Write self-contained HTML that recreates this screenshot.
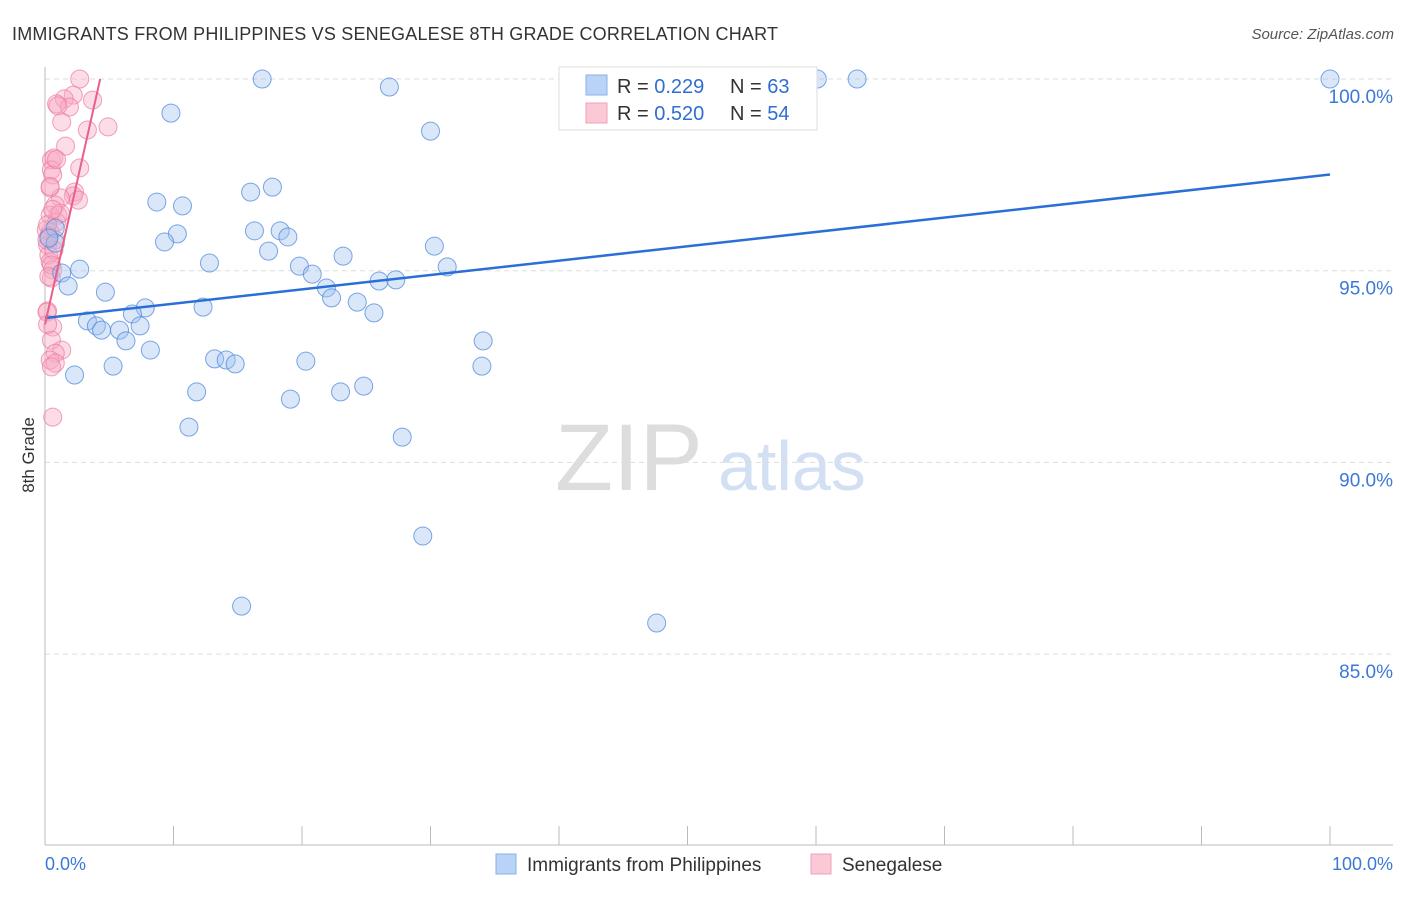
<!DOCTYPE html>
<html><head><meta charset="utf-8"><style>
body{margin:0;background:#fff;font-family:"Liberation Sans",sans-serif}
svg text{font-family:"Liberation Sans",sans-serif}
</style></head><body>
<svg id="c" width="1406" height="892">
<text x="12" y="40" font-size="18" fill="#333" textLength="766">IMMIGRANTS FROM PHILIPPINES VS SENEGALESE 8TH GRADE CORRELATION CHART</text>
<text x="1394" y="39" font-size="15" fill="#555" text-anchor="end" font-style="italic">Source: ZipAtlas.com</text>
<text transform="translate(34,455) rotate(-90)" font-size="17" fill="#333" text-anchor="middle">8th Grade</text>
<text x="555" y="490" font-size="95" fill="#ddd" font-family="Liberation Serif">ZIP</text>
<text x="718" y="490" font-size="70" fill="#d3e0f3">atlas</text>
<g id="grid"></g><g id="pts"></g><g id="lines"></g>
<g>
<rect x="559" y="67" width="258" height="63" fill="#fff" stroke="#ddd"/>
<rect x="586" y="75" width="21" height="20" fill="#b8d3f5" stroke="#8ab2e8"/>
<rect x="586" y="103" width="21" height="20" fill="#fbc8d6" stroke="#f0a0b8"/>
<text x="617" y="93" font-size="20" fill="#333">R = <tspan fill="#2f6fd0">0.229</tspan><tspan x="730">N = </tspan><tspan fill="#2f6fd0">63</tspan></text>
<text x="617" y="120" font-size="20" fill="#333">R = <tspan fill="#2f6fd0">0.520</tspan><tspan x="730">N = </tspan><tspan fill="#2f6fd0">54</tspan></text>
</g>
<g>
<rect x="496" y="854" width="20" height="20" fill="#b8d3f5" stroke="#8ab2e8"/>
<text x="527" y="871" font-size="19" fill="#333">Immigrants from Philippines</text>
<rect x="811" y="854" width="20" height="20" fill="#fbc8d6" stroke="#f0a0b8"/>
<text x="842" y="871" font-size="19" fill="#333">Senegalese</text>
</g>
</svg>
<script>
const blueX=[16.9,26.8,60.1,63.2,100,9.8,30.0,8.7,10.7,16.0,17.7,16.3,18.3,18.9,10.3,9.3,17.4,30.3,0.8,0.8,12.8,19.8,20.8,23.2,2.7,1.3,1.8,4.7,21.9,22.3,26.0,27.3,31.3,24.3,25.6,12.3,7.8,6.8,3.3,4.0,4.4,5.8,7.4,6.3,8.2,34.1,13.2,14.1,14.8,20.3,5.3,34.0,2.3,11.8,19.1,23.0,24.8,11.2,27.8,29.4,15.3,47.6,0.3];
const blueY=[100,99.79,100,100,100,99.11,98.64,96.79,96.69,97.05,97.18,96.04,96.04,95.88,95.96,95.75,95.51,95.64,96.11,95.72,95.2,95.12,94.91,95.38,95.04,94.94,94.6,94.44,94.55,94.29,94.73,94.76,95.1,94.18,93.9,94.05,94.03,93.87,93.69,93.56,93.45,93.45,93.56,93.17,92.93,93.17,92.7,92.67,92.57,92.64,92.51,92.51,92.28,91.84,91.65,91.84,91.99,90.92,90.66,88.08,86.25,85.81,95.85];
const pinkX=[2.7,2.2,1.5,0.9,1.9,3.7,4.9,3.3,1.3,1.6,0.5,0.7,2.7,0.5,0.6,0.4,2.3,2.2,1.2,2.6,0.8,1.0,0.4,0.9,0.4,0.8,0.2,0.3,0.4,0.6,0.5,0.2,0.15,0.6,0.5,1.3,0.8,0.4,0.8,0.5,0.6,0.1,0.15,1.2,0.7,0.5,0.3,0.2,0.9,0.4,0.6,0.3,1.0,0.2];
const pinkY=[100,99.58,99.48,99.35,99.27,99.45,98.75,98.67,98.88,98.25,97.89,97.94,97.68,97.63,97.5,97.16,97.05,96.95,96.9,96.84,96.71,96.45,96.45,96.27,96.01,95.8,95.67,95.41,95.23,95.02,94.81,93.95,93.92,93.53,93.19,92.93,92.85,92.67,92.59,92.49,91.18,96.06,95.8,96.5,95.54,95.15,94.85,96.2,97.9,97.2,96.6,95.9,99.3,93.6];
const pinkFit=[93.6,1.49];
const yTicks=[100,95,90,85];
const yTickLabels=["100.0%","95.0%","90.0%","85.0%"];
const NS='http://www.w3.org/2000/svg';
const sx=v=>45+v*12.85, sy=v=>79+(100-v)*38.34;
function mk(t,a,p){const e=document.createElementNS(NS,t);for(const k in a)e.setAttribute(k,a[k]);p.appendChild(e);return e;}
const grid=document.getElementById('grid');
yTicks.forEach((t,i)=>{
 const l=mk('line',{x1:45,x2:1393,y1:sy(t),y2:sy(t),stroke:'#ddd','stroke-dasharray':'5,4'},grid);
 
 
 const tx=mk('text',{x:1393,y:sy(t)+24,'font-size':19,fill:'#3b78d8','text-anchor':'end'},grid);
 tx.textContent=yTickLabels[i];
 
 
});
const ax=mk('line',{x1:45,x2:45,y1:67,y2:845,stroke:'#bbb'},grid);


const xa=mk('line',{x1:45,x2:1393,y1:845,y2:845,stroke:'#bbb'},grid);


for(let i=1;i<=10;i++){const t=mk('line',{x1:sx(i*10),x2:sx(i*10),y1:826,y2:845,stroke:'#bbb'},grid);
 
 }
[[0,'0.0%','start',45],[100,'100.0%','end',1393]].forEach(d=>{const t=mk('text',{x:d[3],y:870,'font-size':18,fill:'#3b78d8','text-anchor':d[2]},grid);t.textContent=d[1];
 
 });
const pts=document.getElementById('pts');
function drawPts(X,Y,f,s,n){X.forEach((x,i)=>{const c=mk('circle',{cx:sx(x),cy:sy(Y[i]),r:9,fill:f,stroke:s,'stroke-width':1},pts);
 
 });}
drawPts(pinkX,pinkY,'rgba(248,170,195,0.4)','rgba(236,120,160,0.7)','senegalese-point');
drawPts(blueX,blueY,'rgba(160,195,240,0.4)','rgba(70,130,220,0.7)','philippines-point');
function reg(X,Y){const n=X.length;let mx=0,my=0;X.forEach((x,i)=>{mx+=x;my+=Y[i]});mx/=n;my/=n;let a=0,b=0;X.forEach((x,i)=>{a+=(x-mx)*(Y[i]-my);b+=(x-mx)*(x-mx)});const m=a/b;return [m,my-m*mx];}
const lines=document.getElementById('lines');
const [bm,bb]=reg(blueX,blueY);
const bl=mk('line',{x1:sx(0),y1:sy(bb),x2:sx(100),y2:sy(bb+bm*100),stroke:'#2a6fd6','stroke-width':2.5},lines);


const [pb,pm]=pinkFit;
const xe=(100-pb)/pm;
const pl=mk('line',{x1:sx(0),y1:sy(pb),x2:sx(xe),y2:sy(pb+pm*xe),stroke:'#e8608a','stroke-width':2},lines);


</script>
</body></html>
